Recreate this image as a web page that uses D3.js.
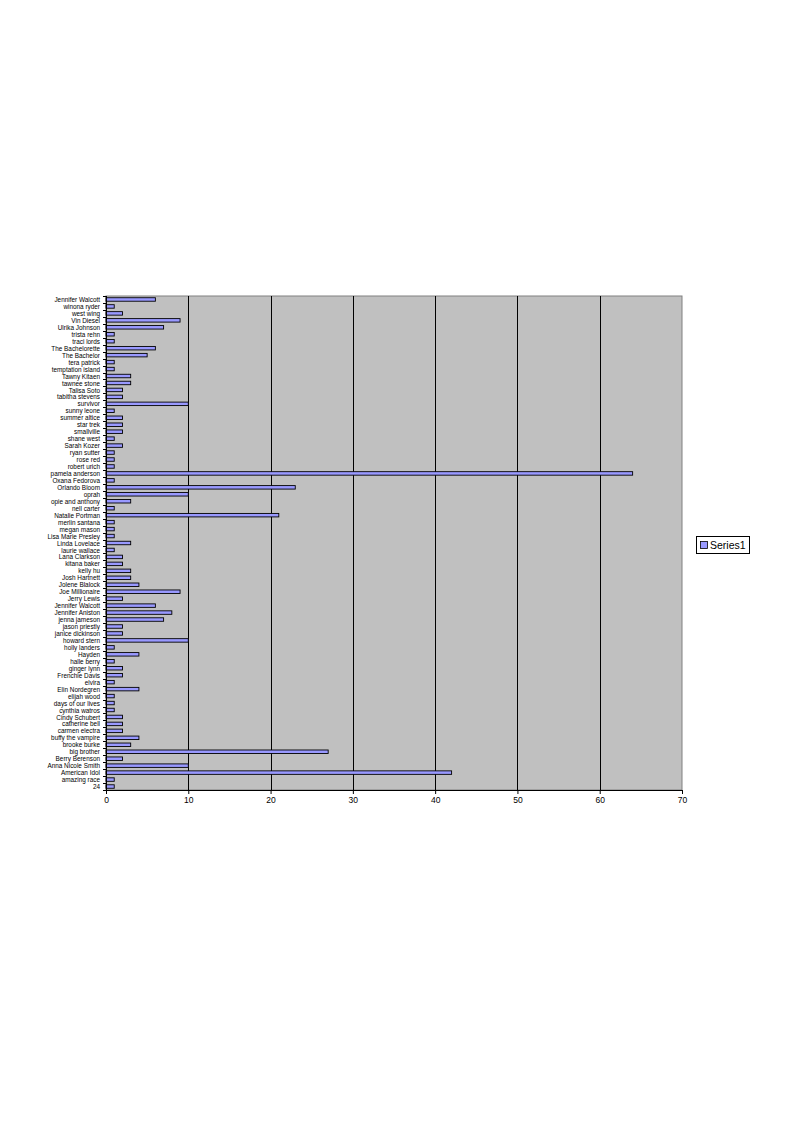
<!DOCTYPE html>
<html>
<head>
<meta charset="utf-8">
<script src="https://cdn.jsdelivr.net/npm/d3@7"></script>
<style>
html,body{margin:0;padding:0;background:#fff;}
svg{display:block;}
</style>
</head>
<body>
<svg id="chart" width="794" height="1123"></svg>
<script>
const categories = [
"Jennifer Walcott","winona ryder","west wing","Vin Diesel","Ulrika Johnson","trista rehn","traci lords",
"The Bachelorette","The Bachelor","tera patrick","temptation island","Tawny Kitaen","tawnee stone",
"Talisa Soto","tabitha stevens","survivor","sunny leone","summer altice","star trek","smallville",
"shane west","Sarah Kozer","ryan sutter","rose red","robert urich","pamela anderson","Oxana Fedorova",
"Orlando Bloom","oprah","opie and anthony","nell carter","Natalie Portman","merlin santana","megan mason",
"Lisa Marie Presley","Linda Lovelace","laurie wallace","Lana Clarkson","kitana baker","kelly hu",
"Josh Hartnett","Jolene Blalock","Joe Millionaire","Jerry Lewis","Jennifer Walcott","Jennifer Aniston",
"jenna jameson","jason priestly","janice dickinson","howard stern","holly landers","Hayden","halle berry",
"ginger lynn","Frenchie Davis","elvira","Elin Nordegren","elijah wood","days of our lives","cynthia watros",
"Cindy Schubert","catherine bell","carmen electra","buffy the vampire","brooke burke","big brother",
"Berry Berenson","Anna Nicole Smith","American Idol","amazing race","24"
];
const series1 = [
6,1,2,9,7,1,1,
6,5,1,1,3,3,
2,2,10,1,2,2,2,
1,2,1,1,1,64,1,
23,10,3,1,21,1,1,
1,3,1,2,2,3,
3,4,9,2,6,8,
7,2,2,10,1,4,1,
2,2,1,4,1,1,1,
2,2,2,4,3,27,
2,10,42,1,1
];
const xTicks = [0,10,20,30,40,50,60,70];
const seriesName = "Series1";

const svg = d3.select("#chart");
const pL = 106, pR = 682, pT = 296, pB = 790;

const x = d3.scaleLinear().domain([0,70]).range([pL,pR]);
const y = d3.scaleBand().domain(d3.range(categories.length)).range([pT,pB]).paddingInner(0.5).paddingOuter(0.25);
const yb = d3.scaleBand().domain(d3.range(categories.length)).range([pT,pB]);

// plot background
svg.append("rect").attr("x",pL).attr("y",pT).attr("width",pR-pL).attr("height",pB-pT)
  .attr("fill","#c0c0c0").attr("stroke","#808080").attr("stroke-width",1);

// gridlines
svg.append("g").selectAll("line").data(xTicks.filter(d=>d>0 && d<70)).join("line")
  .attr("x1",d=>Math.round(x(d))+0.5).attr("x2",d=>Math.round(x(d))+0.5)
  .attr("y1",pT).attr("y2",pB).attr("stroke","#000").attr("stroke-width",1);

// bars
svg.append("g").selectAll("rect").data(series1).join("rect")
  .attr("x",x(0)).attr("y",(d,i)=>y(i))
  .attr("width",d=>x(d)-x(0)).attr("height",y.bandwidth())
  .attr("fill","#9999ff").attr("stroke","#000").attr("stroke-width",0.9);

// x axis
const xAxis = d3.axisBottom(x).tickValues(xTicks).tickSize(4).tickPadding(3).tickFormat(d3.format("d"));
const gx = svg.append("g").attr("transform",`translate(0,${pB})`).call(xAxis);
gx.select(".domain").attr("stroke","#000");
gx.selectAll(".tick line").attr("stroke","#000");
gx.selectAll("text").attr("font-family","'Liberation Sans', Arial, sans-serif").attr("font-size","8.5px").attr("fill","#000");

// y axis (labels centered on bands, ticks at band boundaries)
const yAxis = d3.axisLeft(yb).tickSize(0).tickPadding(6).tickFormat(i=>categories[i]);
const gy = svg.append("g").attr("transform",`translate(${pL},0)`).call(yAxis);
gy.select(".domain").attr("stroke","#000").attr("d",`M0.5,${pT}V${pB}`);
gy.selectAll("text").attr("font-family","'Liberation Sans', Arial, sans-serif")
  .attr("font-size","8px").attr("fill","#000")
  .attr("x",0).attr("transform","translate(-6,0) scale(0.8,1)");
const bounds = d3.range(categories.length+1).map(i => i < categories.length ? yb(i) : pB);
gy.append("g").selectAll("line").data(bounds).join("line")
  .attr("x1",-3).attr("x2",0).attr("y1",d=>Math.round(d)+0.5).attr("y2",d=>Math.round(d)+0.5)
  .attr("stroke","#000").attr("stroke-width",1);

// legend
const lg = svg.append("g");
lg.append("rect").attr("x",696.5).attr("y",536.5).attr("width",53).attr("height",17)
  .attr("fill","#fff").attr("stroke","#000").attr("stroke-width",1);
lg.append("rect").attr("x",700.5).attr("y",541.5).attr("width",7).attr("height",7)
  .attr("fill","#9999ff").attr("stroke","#000").attr("stroke-width",0.8);
lg.append("text").attr("x",710).attr("y",548.5).text(seriesName)
  .attr("font-family","'Liberation Sans', Arial, sans-serif").attr("font-size","10.5px").attr("fill","#000");
</script>
</body>
</html>
